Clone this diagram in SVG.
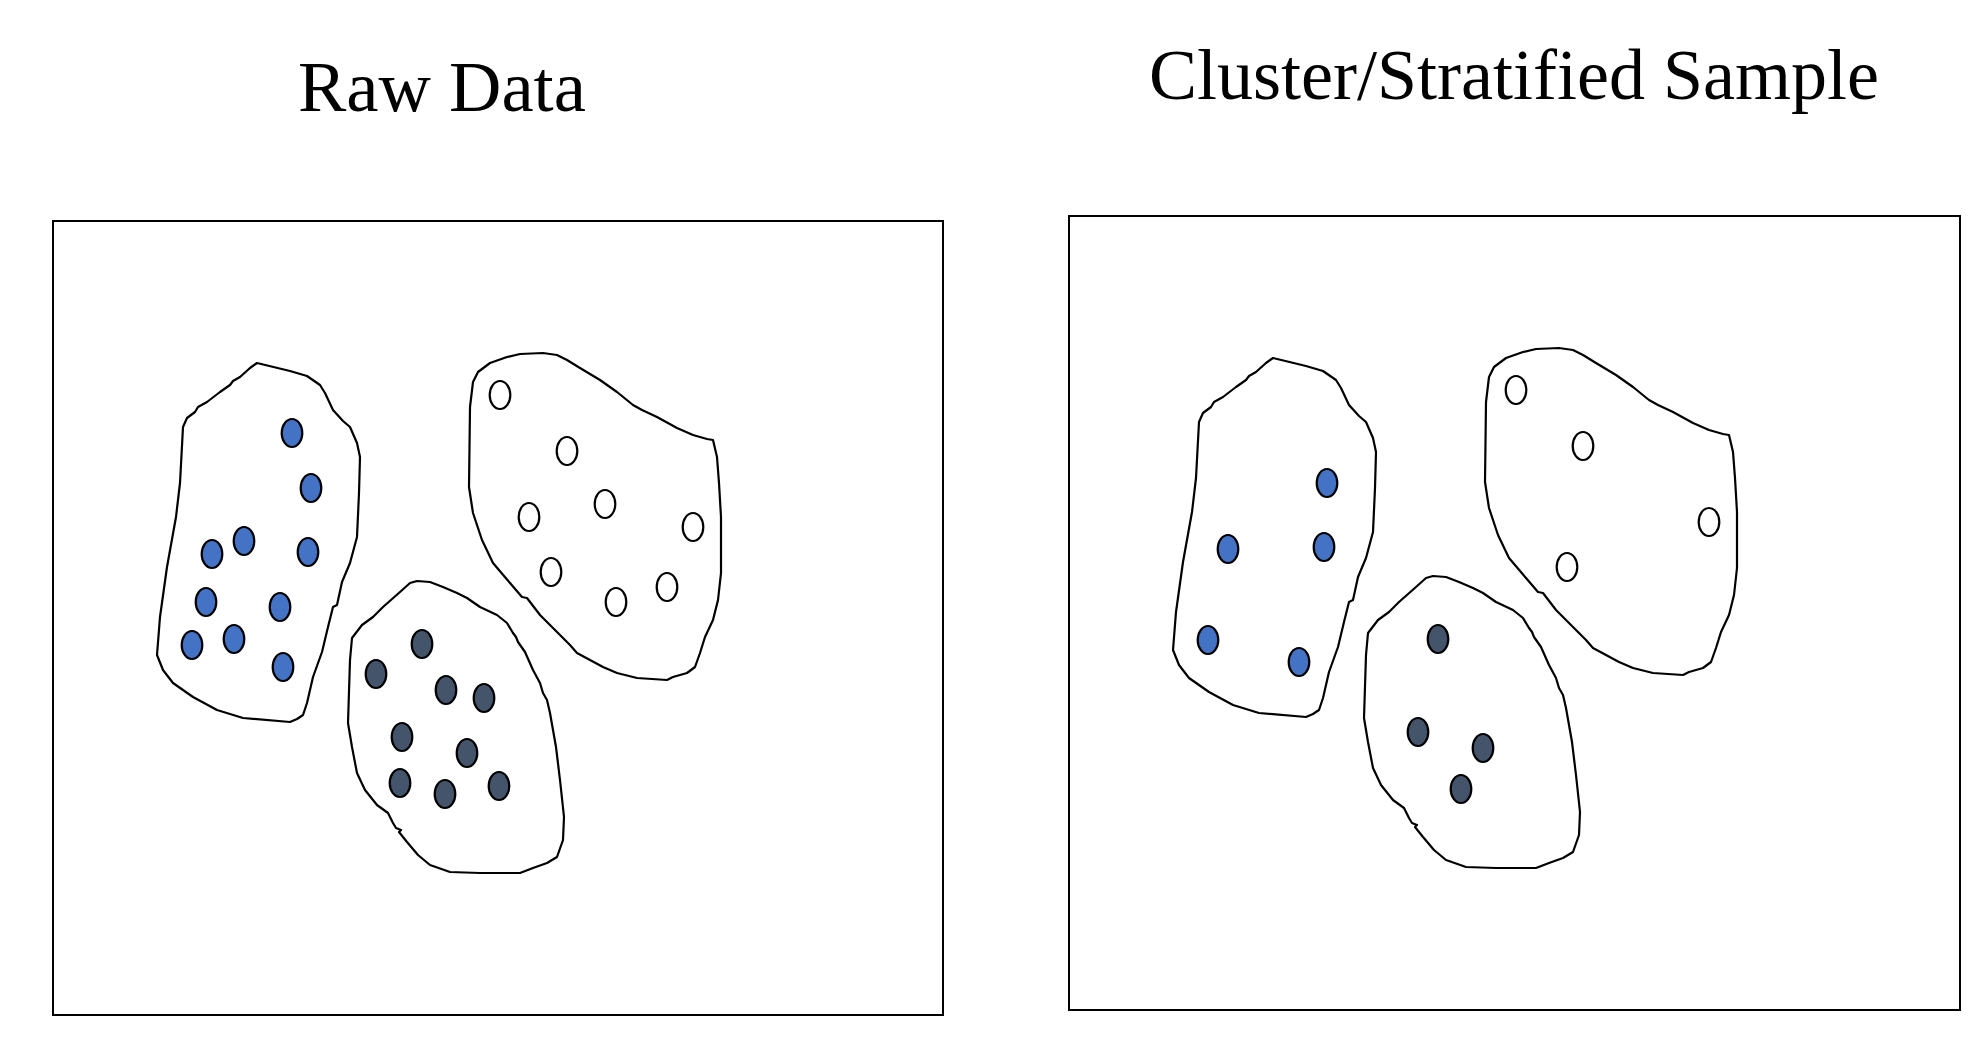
<svg xmlns="http://www.w3.org/2000/svg" xmlns:xlink="http://www.w3.org/1999/xlink" width="1979" height="1054" viewBox="0 0 1979 1054">
<style>
.title{font-family:"Liberation Serif","Times New Roman",serif;font-size:72.5px;fill:#000}
.title2{font-family:"Liberation Serif","Times New Roman",serif;font-size:72px;fill:#000}
.frame{fill:#fff;stroke:#000;stroke-width:2}
.blob{fill:#fff;stroke:#000;stroke-width:2.2;stroke-linejoin:round}
.blue{fill:#4472C4;stroke:#000;stroke-width:2.2}
.dark{fill:#44546A;stroke:#000;stroke-width:2.2}
.white{fill:#fff;stroke:#000;stroke-width:2.2}
</style>
<defs>
<path id="b1" d="M257,363 L250,368 L240,377 L233,381 L230,385 L220,392 L207,402 L198,407 L195,412 L187,418 L183,427 L180,483 L176,517 L167,567 L160,617 L157,655 L163,670 L173,683 L193,697 L217,710 L243,718 L290,722 L297,719 L303,715 L307,703 L313,677 L322,652 L328,627 L333,607 L337,605 L342,582 L350,563 L357,537 L359,493 L360,457 L357,443 L350,427 L343,421 L333,410 L325,393 L320,385 L307,376 L290,371 Z"/>
<path id="b2" d="M417,581 L410,583 L400,592 L383,607 L373,617 L362,625 L352,638 L350,660 L348,723 L352,747 L357,773 L365,790 L377,805 L388,813 L393,823 L396,828 L401,830 L399,832 L407,842 L418,855 L430,865 L450,872 L480,873 L520,873 L533,868 L547,863 L557,857 L563,840 L564,817 L560,780 L556,747 L550,713 L547,700 L543,693 L540,683 L533,670 L525,652 L518,642 L516,637 L513,633 L507,623 L497,615 L480,607 L467,598 L457,593 L443,587 L430,582 Z"/>
<path id="b3" d="M520,354 L507,357 L490,363 L478,372 L473,382 L470,407 L469,487 L473,513 L482,540 L493,563 L510,583 L522,597 L527,598 L540,615 L557,632 L570,645 L577,653 L590,660 L603,667 L617,673 L637,678 L667,680 L673,677 L687,673 L695,667 L700,653 L705,637 L713,620 L718,600 L721,573 L721,517 L719,483 L717,457 L713,440 L707,439 L693,435 L677,428 L657,417 L642,410 L633,405 L617,392 L600,380 L580,368 L567,360 L557,355 L543,353 Z"/>
</defs>
<rect width="1979" height="1054" fill="#fff"/>

<g id="title-raw"><text class="title" x="298" y="111">Raw Data</text></g>
<g id="title-sample"><text class="title2" x="1149" y="99">Cluster/Stratified Sample</text></g>

<g id="panel-raw">
  <rect class="frame" x="53" y="221" width="890" height="794"/>
  <g id="raw-cluster-blue">
    <use xlink:href="#b1" href="#b1" class="blob"/>
    <ellipse class="blue" cx="292" cy="433" rx="10.3" ry="14"/>
    <ellipse class="blue" cx="311" cy="488" rx="10.3" ry="14"/>
    <ellipse class="blue" cx="244" cy="541" rx="10.3" ry="14"/>
    <ellipse class="blue" cx="212" cy="554" rx="10.3" ry="14"/>
    <ellipse class="blue" cx="308" cy="552" rx="10.3" ry="14"/>
    <ellipse class="blue" cx="206" cy="602" rx="10.3" ry="14"/>
    <ellipse class="blue" cx="280" cy="607" rx="10.3" ry="14"/>
    <ellipse class="blue" cx="192" cy="645" rx="10.3" ry="14"/>
    <ellipse class="blue" cx="234" cy="639" rx="10.3" ry="14"/>
    <ellipse class="blue" cx="283" cy="667" rx="10.3" ry="14"/>
  </g>
  <g id="raw-cluster-white">
    <use xlink:href="#b3" href="#b3" class="blob"/>
    <ellipse class="white" cx="500" cy="395" rx="10.3" ry="14"/>
    <ellipse class="white" cx="567" cy="451" rx="10.3" ry="14"/>
    <ellipse class="white" cx="529" cy="517" rx="10.3" ry="14"/>
    <ellipse class="white" cx="605" cy="504" rx="10.3" ry="14"/>
    <ellipse class="white" cx="693" cy="527" rx="10.3" ry="14"/>
    <ellipse class="white" cx="551" cy="572" rx="10.3" ry="14"/>
    <ellipse class="white" cx="667" cy="587" rx="10.3" ry="14"/>
    <ellipse class="white" cx="616" cy="602" rx="10.3" ry="14"/>
  </g>
  <g id="raw-cluster-dark">
    <use xlink:href="#b2" href="#b2" class="blob"/>
    <ellipse class="dark" cx="422" cy="644" rx="10.3" ry="14"/>
    <ellipse class="dark" cx="376" cy="674" rx="10.3" ry="14"/>
    <ellipse class="dark" cx="446" cy="690" rx="10.3" ry="14"/>
    <ellipse class="dark" cx="484" cy="698" rx="10.3" ry="14"/>
    <ellipse class="dark" cx="402" cy="737" rx="10.3" ry="14"/>
    <ellipse class="dark" cx="467" cy="753" rx="10.3" ry="14"/>
    <ellipse class="dark" cx="400" cy="783" rx="10.3" ry="14"/>
    <ellipse class="dark" cx="445" cy="794" rx="10.3" ry="14"/>
    <ellipse class="dark" cx="499" cy="786" rx="10.3" ry="14"/>
  </g>
</g>

<g id="panel-sample">
  <rect class="frame" x="1069" y="216" width="891" height="794"/>
  <g transform="translate(1016,-5)">
    <g id="sample-cluster-blue">
      <use xlink:href="#b1" href="#b1" class="blob"/>
      <ellipse class="blue" cx="311" cy="488" rx="10.3" ry="14"/>
      <ellipse class="blue" cx="212" cy="554" rx="10.3" ry="14"/>
      <ellipse class="blue" cx="308" cy="552" rx="10.3" ry="14"/>
      <ellipse class="blue" cx="192" cy="645" rx="10.3" ry="14"/>
      <ellipse class="blue" cx="283" cy="667" rx="10.3" ry="14"/>
    </g>
    <g id="sample-cluster-white">
      <use xlink:href="#b3" href="#b3" class="blob"/>
      <ellipse class="white" cx="500" cy="395" rx="10.3" ry="14"/>
      <ellipse class="white" cx="567" cy="451" rx="10.3" ry="14"/>
      <ellipse class="white" cx="693" cy="527" rx="10.3" ry="14"/>
      <ellipse class="white" cx="551" cy="572" rx="10.3" ry="14"/>
    </g>
    <g id="sample-cluster-dark">
      <use xlink:href="#b2" href="#b2" class="blob"/>
      <ellipse class="dark" cx="422" cy="644" rx="10.3" ry="14"/>
      <ellipse class="dark" cx="402" cy="737" rx="10.3" ry="14"/>
      <ellipse class="dark" cx="467" cy="753" rx="10.3" ry="14"/>
      <ellipse class="dark" cx="445" cy="794" rx="10.3" ry="14"/>
    </g>
  </g>
</g>
<g id="connectors"/>
</svg>
